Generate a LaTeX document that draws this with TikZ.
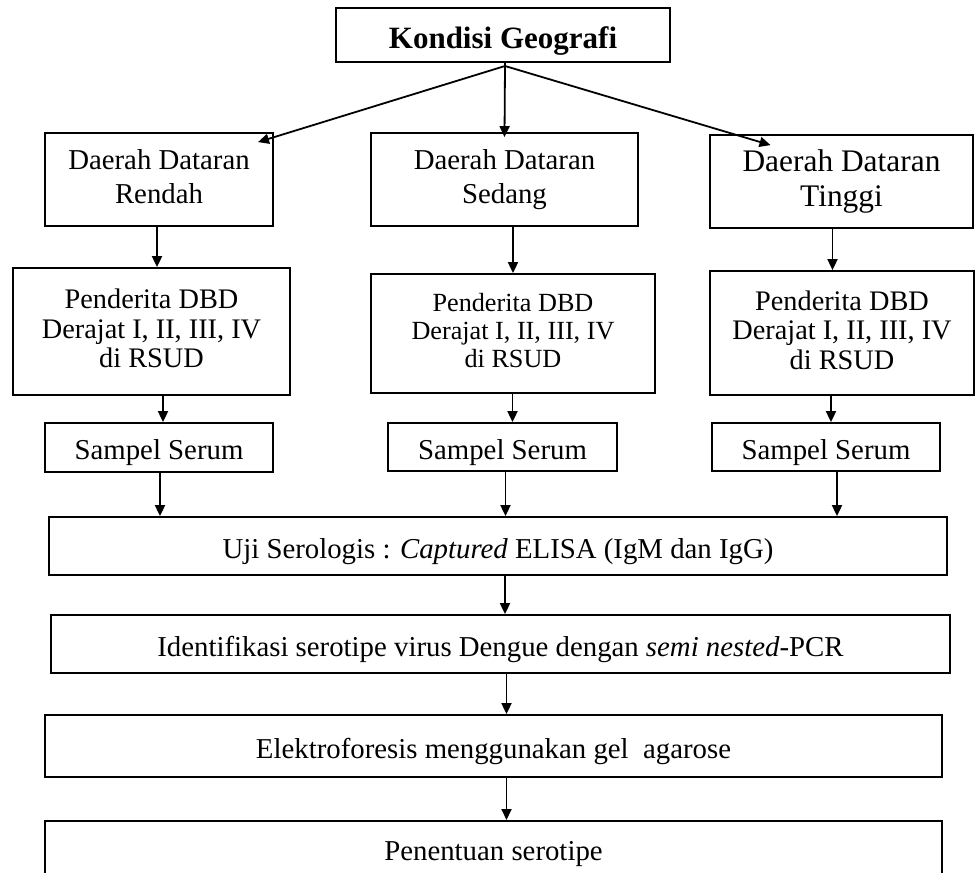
\documentclass[tikz,border=0pt]{standalone}
\usepackage{fontspec}
\setmainfont{Liberation Serif}
\usetikzlibrary{arrows.meta}
\newcommand\boxstrut{\rule[-0.22em]{0pt}{1.3em}}
\begin{document}
\begin{tikzpicture}[x=1pt,y=-1pt,
  box/.style={draw,line width=1.8pt,inner sep=0pt,align=center,font=\fontsize{28.8}{30}\selectfont,
    execute at begin node=\boxstrut, execute at end node=\boxstrut},
  arr/.style={line width=1.8pt,-{Triangle[length=11pt,width=10pt]}},
  arrline/.style={line width=1.8pt}]
\clip (0,0) rectangle (975,873);
\fill[white] (0,0) rectangle (975,873);
% top
\node[box,minimum width=334pt,minimum height=54pt,font=\fontsize{31}{33}\selectfont\bfseries] (kg) at (503,35) {Kondisi Geografi};
\coordinate (split) at (505,66);
% row 1
\node[box,minimum width=228pt,minimum height=93pt,font=\fontsize{28.8}{34}\selectfont] (dr) at (159,179.5) {Daerah Dataran\\Rendah};
\node[box,minimum width=267pt,minimum height=93pt,font=\fontsize{28.8}{34}\selectfont] (ds) at (504.5,179.5) {Daerah Dataran\\Sedang};
\node[box,minimum width=263pt,minimum height=93pt,font=\fontsize{31.4}{35}\selectfont] (dt) at (841.5,181.5) {Daerah Dataran\\Tinggi};
% row 2
\node[box,minimum width=277pt,minimum height=127pt,font=\fontsize{28.3}{29.5}\selectfont] (pr) at (151.5,331.5) {Penderita DBD\\Derajat I, II, III, IV\\di RSUD};
\node[box,minimum width=284pt,minimum height=119pt,font=\fontsize{26.2}{28}\selectfont] (ps) at (513,333.5) {Penderita DBD\\Derajat I, II, III, IV\\di RSUD};
\node[box,minimum width=264pt,minimum height=124pt,font=\fontsize{28.3}{29.5}\selectfont] (pt) at (842,333) {Penderita DBD\\Derajat I, II, III, IV\\di RSUD};
% row 3
\node[box,minimum width=228pt,minimum height=49pt] (sr) at (159,447.5) {Sampel Serum};
\node[box,minimum width=229pt,minimum height=48pt] (ss) at (502.5,447) {Sampel Serum};
\node[box,minimum width=228pt,minimum height=48pt] (st) at (826,447) {Sampel Serum};
% wide boxes
\node[box,minimum width=898pt,minimum height=58pt] (uji) at (498,546) {Uji Serologis : \textit{Captured} ELISA (IgM dan IgG)};
\node[box,minimum width=899pt,minimum height=58pt] (idf) at (500.5,644) {Identifikasi serotipe virus Dengue dengan \textit{semi nested}-PCR};
\node[box,minimum width=897pt,minimum height=62pt] (el) at (493.5,746) {Elektroforesis menggunakan gel\ \ agarose};
\node[box,minimum width=897pt,minimum height=80pt,anchor=north] (pn) at (493.5,820) {};
\node[font=\fontsize{28.8}{30}\selectfont,inner sep=0pt] (pntext) at (pn.north |- 0,848) {\boxstrut Penentuan serotipe};
% connectors from top
\draw[arrline] ([xshift=2pt]kg.south) -- (split);
\draw[arr] (split) -- ([xshift=99pt,yshift=-10pt]dr.north);
\draw[arr] (split) -- ([yshift=-5pt]ds.north);
\draw[arr] (split) -- ([xshift=-71pt,yshift=-11pt]dt.north);
% row1 -> row2
\draw[arr] ([xshift=-2pt]dr.south) -- ([xshift=-2pt]dr.south |- pr.north);
\draw[arr] (ps.north |- ds.south) -- (ps.north);
\draw[arr] ([xshift=-9pt]dt.south) -- ([xshift=-9pt]dt.south |- pt.north);
% row2 -> row3
\draw[arr] ([xshift=4pt]sr.north |- pr.south) -- ([xshift=4pt]sr.north);
\draw[arr] ([xshift=10pt]ss.north |- ps.south) -- ([xshift=10pt]ss.north);
\draw[arr] ([xshift=5pt]st.north |- pt.south) -- ([xshift=5pt]st.north);
% row3 -> uji
\draw[arr] ([xshift=1pt]sr.south) -- ([xshift=1pt]sr.south |- uji.north);
\draw[arr] ([xshift=3pt]ss.south) -- ([xshift=3pt]ss.south |- uji.north);
\draw[arr] ([xshift=11pt]st.south) -- ([xshift=11pt]st.south |- uji.north);
% chain
\draw[arr] ([xshift=7pt]uji.south) -- ([xshift=7pt]uji.south |- idf.north);
\draw[arr] ([xshift=13pt]el.north |- idf.south) -- ([xshift=13pt]el.north);
\draw[arr] ([xshift=13pt]el.south) -- ([xshift=13pt]pn.north);
\end{tikzpicture}
\end{document}
